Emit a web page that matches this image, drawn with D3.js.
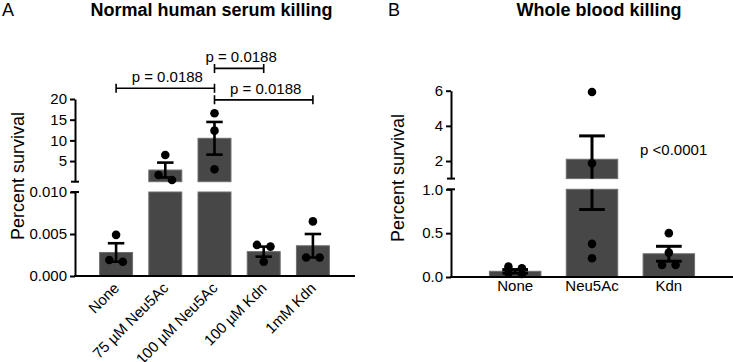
<!DOCTYPE html>
<html>
<head>
<meta charset="utf-8">
<script src="https://cdn.jsdelivr.net/npm/d3@7"></script>
<style>
  body { margin: 0; background: #fff; }
  svg { display: block; font-family: "Liberation Sans", Arial, Helvetica, sans-serif; }
</style>
</head>
<body>
<div id="chart"></div>
<script>
// Panel A - serum killing
const groupsA = ["None", "75 µM Neu5Ac", "100 µM Neu5Ac", "100 µM Kdn", "1mM Kdn"];
const pointsA = [
    [0.0049, 0.0019, 0.0017],
    [6.46, 1.62, 0.41],
    [16.56, 12.35, 3.0],
    [0.0037, 0.0035, 0.0017],
    [0.0065, 0.0022, 0.0022]
];
const meansA = [0.0028, 2.83, 10.5, 0.0029, 0.0036];
const semA = [0.0011, 1.8, 3.95, 0.0006, 0.0014];
const ticksLowA = [0, 0.005, 0.010];
const ticksHighA = [5, 10, 15, 20];
const comparisonsA = [
    {from: "None", to: "100 µM Neu5Ac", label: "p = 0.0188", level: 22.6},
    {from: "100 µM Neu5Ac", to: "100 µM Kdn", label: "p = 0.0188", level: 27.4},
    {from: "100 µM Neu5Ac", to: "1mM Kdn", label: "p = 0.0188", level: 19.8}
];

// Panel B - whole blood killing
const groupsB = ["None", "Neu5Ac", "Kdn"];
const pointsB = [
    [0.118, 0.1, 0.042, 0.034],
    [5.93, 1.87, 0.378, 0.214],
    [0.5, 0.278, 0.137, 0.137]
];
const meansB = [0.065, 2.1, 0.265];
const semB = [0.02, 1.33, 0.085];
const ticksLowB = [0, 0.5, 1.0];
const ticksHighB = [2, 4, 6];
const pLabelB = "p <0.0001";

const svg = d3.select("#chart")
    .append("svg")
    .attr("width", 733)
    .attr("height", 362);

// Layout of each panel (broken y axis = two segments)
const panelA = {
    letter: "A", letterX: 2, title: "Normal human serum killing", titleX: 211.5,
    groups: groupsA, points: pointsA, means: meansA, sem: semA,
    left: 75, right: 354, axisEnd: 355, base: 276,
    ylabX: 24, ylabY: 176, errWidth: 2.6,
    segments: [
        {domain: [0, 0.010], range: [276, 192], ticks: ticksLowA, fmt: d3.format(".3f")},
        {domain: [0.01, 20], range: [181.7, 99], ticks: ticksHighA, fmt: d3.format("d")}
    ],
    rotateLabels: true
};

const panelB = {
    letter: "B", letterX: 388, title: "Whole blood killing", titleX: 599,
    groups: groupsB, points: pointsB, means: meansB, sem: semB,
    left: 451, right: 733, axisEnd: 733, base: 277,
    ylabX: 403.5, ylabY: 178, errWidth: 3,
    segments: [
        {domain: [0, 1], range: [277, 189.3], ticks: ticksLowB, fmt: d3.format(".1f")},
        {domain: [1, 6], range: [178.6, 90.7], ticks: ticksHighB, fmt: d3.format("d")}
    ],
    rotateLabels: false
};

function segmentFor(segments, v) {
    return segments.find(s => v <= s.domain[1]) || segments[segments.length - 1];
}

// spread dots that sit on the same height
function dodge(ys, cx, spacing) {
    const order = ys.map((y, i) => i).sort((a, b) => ys[a] - ys[b]);
    const xs = new Array(ys.length);
    let row = [];
    const flush = () => {
        row.forEach((idx, k) => { xs[idx] = cx + (k - (row.length - 1) / 2) * spacing; });
        row = [];
    };
    order.forEach(idx => {
        if (row.length && ys[idx] - ys[row[0]] >= 6) flush();
        row.push(idx);
    });
    flush();
    return xs;
}

function drawPanel(cfg) {
    const g = svg.append("g");

    const x = d3.scaleBand()
        .domain(cfg.groups)
        .range([cfg.left, cfg.right])
        .paddingInner(0.33)
        .paddingOuter(0.5);
    const bw = x.bandwidth();

    cfg.segments.forEach(s => {
        s.y = d3.scaleLinear().domain(s.domain).range(s.range);
    });

    const rows = cfg.groups.map((name, i) => ({
        name: name, mean: cfg.means[i], sem: cfg.sem[i], points: cfg.points[i]
    }));

    // Bars and error bars, cut per segment
    cfg.segments.forEach(s => {
        const lo = s.domain[0], hi = s.domain[1];

        const barData = rows.filter(d => d.mean > lo);
        g.selectAll(null)
            .data(barData)
            .enter().append("rect")
            .attr("x", d => x(d.name))
            .attr("width", bw)
            .attr("y", d => s.y(Math.min(d.mean, hi)))
            .attr("height", d => s.y(Math.max(lo, 0)) - s.y(Math.min(d.mean, hi)))
            .attr("fill", "#474747")
            .attr("stroke", "#6e6e6e")
            .attr("stroke-width", 1);

        rows.forEach(d => {
            const a = d.mean - d.sem, b = d.mean + d.sem;
            const top = Math.min(b, hi), bot = Math.max(a, lo);
            if (top <= bot) return;
            const cx = x(d.name) + bw / 2;
            g.append("line")
                .attr("x1", cx).attr("x2", cx)
                .attr("y1", s.y(top)).attr("y2", s.y(bot))
                .attr("stroke", "#000")
                .attr("stroke-width", cfg.errWidth);
            [a, b].filter(v => v >= lo && v <= hi).forEach(v => {
                g.append("line")
                    .attr("x1", cx - bw / 4).attr("x2", cx + bw / 4)
                    .attr("y1", s.y(v)).attr("y2", s.y(v))
                    .attr("stroke", "#000")
                    .attr("stroke-width", cfg.errWidth);
            });
        });
    });

    // Individual points
    rows.forEach(d => {
        const ys = d.points.map(v => segmentFor(cfg.segments, v).y(v));
        const xs = dodge(ys, x(d.name) + bw / 2, 13.5);
        g.selectAll(null)
            .data(d.points)
            .enter().append("circle")
            .attr("cx", (v, i) => xs[i])
            .attr("cy", (v, i) => ys[i])
            .attr("r", 4.3)
            .attr("fill", "#000");
    });

    // Y axis segments
    cfg.segments.forEach(s => {
        const ax = g.append("g")
            .attr("transform", `translate(${cfg.left},0)`)
            .call(d3.axisLeft(s.y)
                .tickValues(s.ticks)
                .tickFormat(s.fmt)
                .tickSize(5)
                .tickSizeOuter(0)
                .tickPadding(3));
        ax.select(".domain").attr("stroke-width", 2);
        ax.selectAll(".tick line").attr("stroke-width", 2);
        ax.selectAll(".tick text")
            .attr("fill", "#000")
            .style("font-size", "15px")
            .style("font-family", "'Liberation Sans', Arial, sans-serif");
    });

    // small marks at the axis break
    const breaks = [cfg.segments[0].range[1], cfg.segments[1].range[0]];
    g.selectAll(null)
        .data(breaks)
        .enter().append("line")
        .attr("x1", cfg.left - 4).attr("x2", cfg.left + 4)
        .attr("y1", d => d).attr("y2", d => d)
        .attr("stroke", "#000")
        .attr("stroke-width", 2);

    // X axis line (no ticks)
    g.append("line")
        .attr("x1", cfg.left - 1).attr("x2", cfg.axisEnd)
        .attr("y1", cfg.base).attr("y2", cfg.base)
        .attr("stroke", "#000")
        .attr("stroke-width", 2);

    // Category labels
    const labels = g.selectAll(null)
        .data(cfg.groups)
        .enter().append("text")
        .style("font-size", "15px")
        .attr("fill", "#000")
        .text(d => d);
    if (cfg.rotateLabels) {
        labels.attr("text-anchor", "end")
            .attr("transform", d => `translate(${x(d) + bw / 2 + 4},${cfg.base + 13}) rotate(-45)`);
    } else {
        labels.attr("text-anchor", "middle")
            .attr("x", d => x(d) + bw / 2)
            .attr("y", cfg.base + 14);
    }

    // Y axis label
    g.append("text")
        .attr("transform", `translate(${cfg.ylabX},${cfg.ylabY}) rotate(-90)`)
        .attr("text-anchor", "middle")
        .style("font-size", "18px")
        .text("Percent survival");

    // Title and panel letter
    g.append("text")
        .attr("x", cfg.titleX)
        .attr("y", 16)
        .attr("text-anchor", "middle")
        .style("font-size", "18px")
        .style("font-weight", "bold")
        .text(cfg.title);

    g.append("text")
        .attr("x", cfg.letterX)
        .attr("y", 16)
        .style("font-size", "18px")
        .text(cfg.letter);

    return {g: g, x: x, bw: bw};
}

const a = drawPanel(panelA);
const b = drawPanel(panelB);

// Significance brackets for panel A
const yTopA = panelA.segments[1].y;
comparisonsA.forEach(c => {
    const x1 = a.x(c.from) + a.bw / 2;
    const x2 = a.x(c.to) + a.bw / 2;
    const y = yTopA(c.level);
    a.g.append("path")
        .attr("d", `M${x1},${y - 4.5}V${y + 4.5}M${x1},${y}H${x2}M${x2},${y - 4.5}V${y + 4.5}`)
        .attr("fill", "none")
        .attr("stroke", "#000")
        .attr("stroke-width", 1.6);
    a.g.append("text")
        .attr("x", (x1 + x2) / 2 + 2)
        .attr("y", y - 6)
        .attr("text-anchor", "middle")
        .style("font-size", "15px")
        .text(c.label);
});

// p value for panel B
b.g.append("text")
    .attr("x", b.x("Kdn") - 3)
    .attr("y", panelB.segments[1].y(2.35))
    .style("font-size", "15px")
    .text(pLabelB);
</script>
</body>
</html>
